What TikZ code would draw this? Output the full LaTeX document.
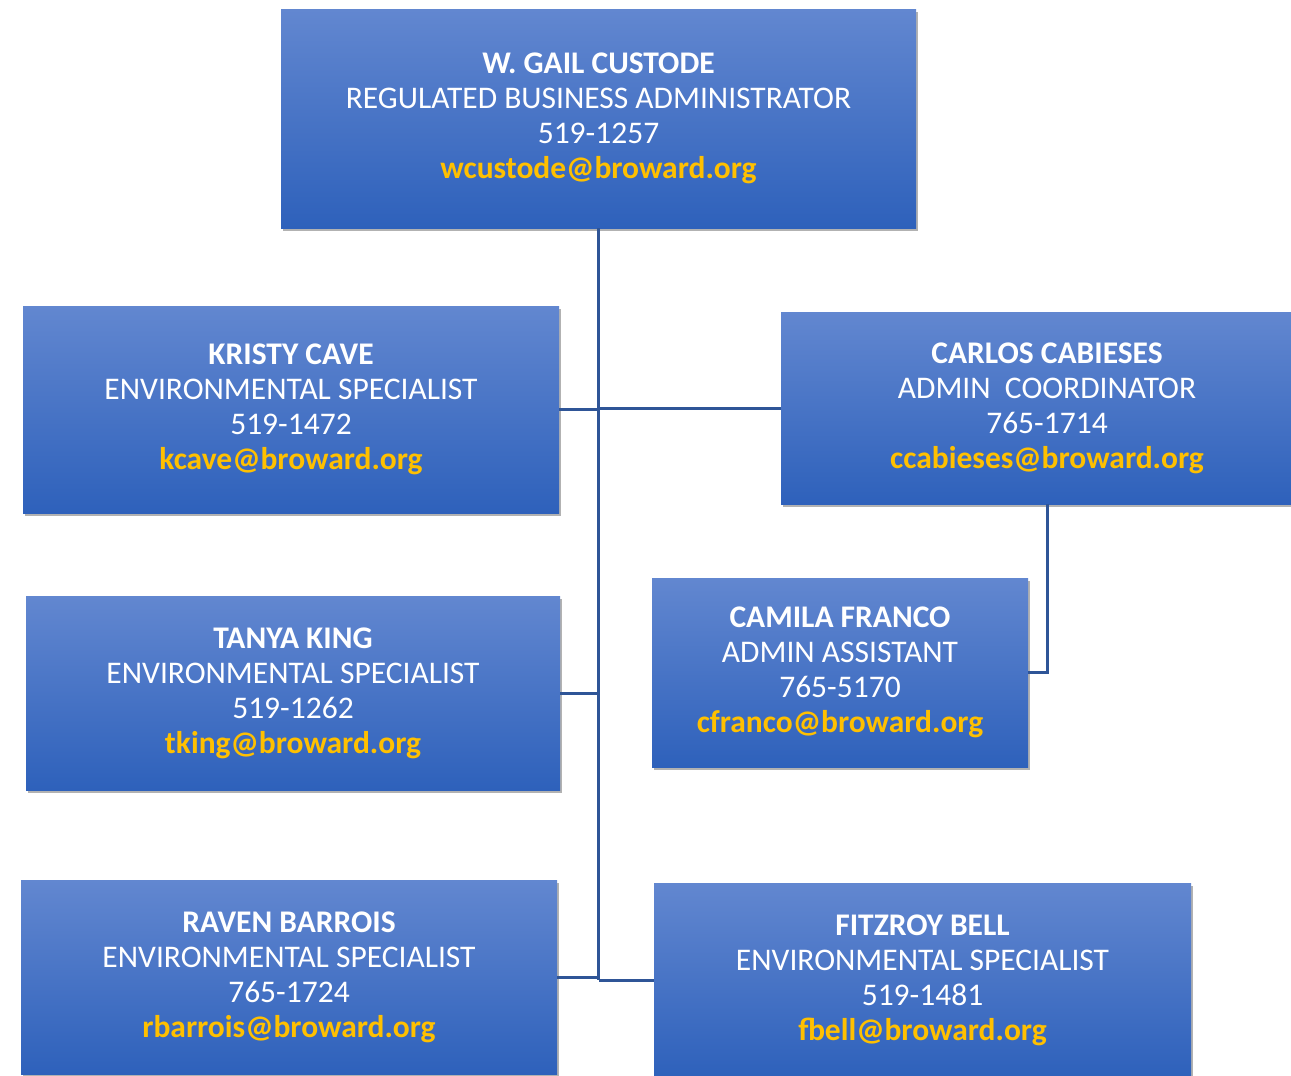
\documentclass[tikz,border=0pt]{standalone}
\usepackage{fontspec}
\setmainfont{Carlito}
\usetikzlibrary{shadows}
\definecolor{boxtop}{HTML}{6287D0}
\definecolor{boxbot}{HTML}{2E61BB}
\definecolor{gold}{HTML}{FFC000}
\definecolor{linkc}{HTML}{2F5597}
\tikzset{
  person/.style={rectangle, inner sep=0pt, align=center, text=white,
    top color=boxtop, bottom color=boxbot, draw=none,
    font=\fontsize{31.5}{35}\selectfont,
    drop shadow={shadow xshift=2pt, shadow yshift=-3pt, opacity=0.3, fill=black}},
  link/.style={draw=linkc, line width=3pt}
}
\newcommand{\mail}[1]{\textcolor{gold}{\textbf{#1}}}
\begin{document}
\begin{tikzpicture}[x=1pt, y=-1pt]
\useasboundingbox (0,0) rectangle (1291,1076);
\clip (0,0) rectangle (1291,1076);
\fill[white] (0,0) rectangle (1291,1076);
\node[person, minimum width=635pt, minimum height=219pt] (top) at (598.5,118.5)
  {\textbf{W. GAIL CUSTODE}\\REGULATED BUSINESS ADMINISTRATOR\\519-1257\\\mail{wcustode@broward.org}};
\node[person, minimum width=536pt, minimum height=207pt] (kristy) at (291,409.5)
  {\textbf{KRISTY CAVE}\\ENVIRONMENTAL SPECIALIST\\519-1472\\\mail{kcave@broward.org}};
\node[person, minimum width=532pt, minimum height=192pt] (carlos) at (1047,408)
  {\textbf{CARLOS CABIESES}\\ADMIN\ \ COORDINATOR\\765-1714\\\mail{ccabieses@broward.org}};
\node[person, minimum width=534pt, minimum height=194pt] (tanya) at (293,693)
  {\textbf{TANYA KING}\\ENVIRONMENTAL SPECIALIST\\519-1262\\\mail{tking@broward.org}};
\node[person, minimum width=376pt, minimum height=189pt] (camila) at (840,672.5)
  {\textbf{CAMILA FRANCO}\\ADMIN ASSISTANT\\765-5170\\\mail{cfranco@broward.org}};
\node[person, minimum width=536pt, minimum height=194pt] (raven) at (289,977)
  {\textbf{RAVEN BARROIS}\\ENVIRONMENTAL SPECIALIST\\765-1724\\\mail{rbarrois@broward.org}};
\node[person, minimum width=537pt, minimum height=194pt] (fitz) at (922.5,980)
  {\textbf{FITZROY BELL}\\ENVIRONMENTAL SPECIALIST\\519-1481\\\mail{fbell@broward.org}};
\coordinate (trunkend) at (top.south |- fitz.west);
\draw[link] (top.south) -- (trunkend);
\draw[link] (kristy.east) -- (kristy.east -| top.south);
\draw[link] (carlos.west) -- (carlos.west -| top.south);
\draw[link] (tanya.east) -- (tanya.east -| top.south);
\draw[link] (raven.east) -- (raven.east -| top.south);
\draw[link] (fitz.west) -- (trunkend);
\draw[link] (carlos.south) |- (camila.east);
\end{tikzpicture}
\end{document}
